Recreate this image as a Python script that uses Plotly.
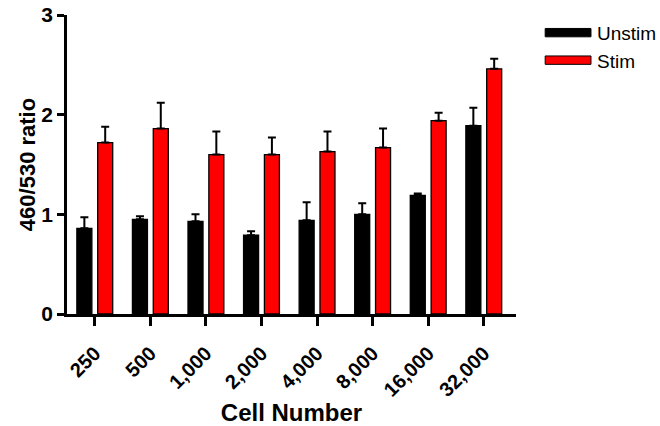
import plotly.graph_objects as go

categories = ["250", "500", "1,000", "2,000", "4,000", "8,000", "16,000", "32,000"]
unstim = [0.86, 0.95, 0.93, 0.79, 0.94, 1.00, 1.19, 1.89]
unstim_err = [0.11, 0.03, 0.07, 0.04, 0.18, 0.11, 0.02, 0.18]
stim = [1.72, 1.86, 1.60, 1.60, 1.63, 1.67, 1.94, 2.46]
stim_err = [0.16, 0.26, 0.23, 0.17, 0.20, 0.19, 0.08, 0.10]
series_names = ["Unstim", "Stim"]
series_colors = ["#000000", "#ff0000"]

FONT = "Arial, Liberation Sans, sans-serif"

fig = go.Figure()
for name, vals, errs, col in zip(series_names, [unstim, stim], [unstim_err, stim_err], series_colors):
    fig.add_trace(go.Bar(
        x=categories, y=vals, name=name,
        marker=dict(color=col, line=dict(color="#000000", width=1.3)),
        error_y=dict(type="data", array=errs, arrayminus=[0] * len(errs), symmetric=False,
                     color="#000000", thickness=2, width=4),
        showlegend=False,
    ))

# legend drawn manually (wide swatches like the reference)
leg_y = [0.941, 0.849]
for name, col, yy in zip(series_names, series_colors, leg_y):
    fig.add_shape(type="rect", xref="paper", yref="paper",
                  x0=1.065, x1=1.167, y0=yy - 0.014, y1=yy + 0.014,
                  fillcolor=col, line=dict(color="#000000", width=1))
    fig.add_annotation(xref="paper", yref="paper", x=1.176, y=yy - 0.004, text=name,
                       showarrow=False, xanchor="left", yanchor="middle",
                       font=dict(family=FONT, size=19, color="#000000"))

fig.update_layout(
    width=660, height=426,
    margin=dict(l=67, r=144, t=15, b=112),
    paper_bgcolor="white", plot_bgcolor="white",
    barmode="group", bargap=0.25, bargroupgap=0.28,
    font=dict(family=FONT, color="#000000"),
    xaxis=dict(
        range=[-0.5, 7.58], showline=True, linecolor="#000000", linewidth=2.5,
        ticks="outside", ticklen=9, tickwidth=2.5, tickcolor="#000000",
        tickangle=-45, ticklabelstandoff=8,
        tickfont=dict(family=FONT, size=20, color="#000000", weight="bold"),
        title=dict(text="<b>Cell Number</b>", font=dict(family=FONT, size=24), standoff=5),
        showgrid=False, zeroline=False, automargin=False,
    ),
    yaxis=dict(
        range=[0, 3], tickvals=[0, 1, 2, 3], showline=True, linecolor="#000000", linewidth=2.5,
        ticks="outside", ticklen=7, tickwidth=2.5, tickcolor="#000000",
        tickfont=dict(family=FONT, size=21, color="#000000", weight="bold"),
        title=dict(text="<b>460/530 ratio</b>", font=dict(family=FONT, size=22), standoff=0),
        showgrid=False, zeroline=False, automargin=False,
    ),
)

fig.write_html("out.html", config={"displayModeBar": False},
               post_script="document.body.style.margin='0px';")
